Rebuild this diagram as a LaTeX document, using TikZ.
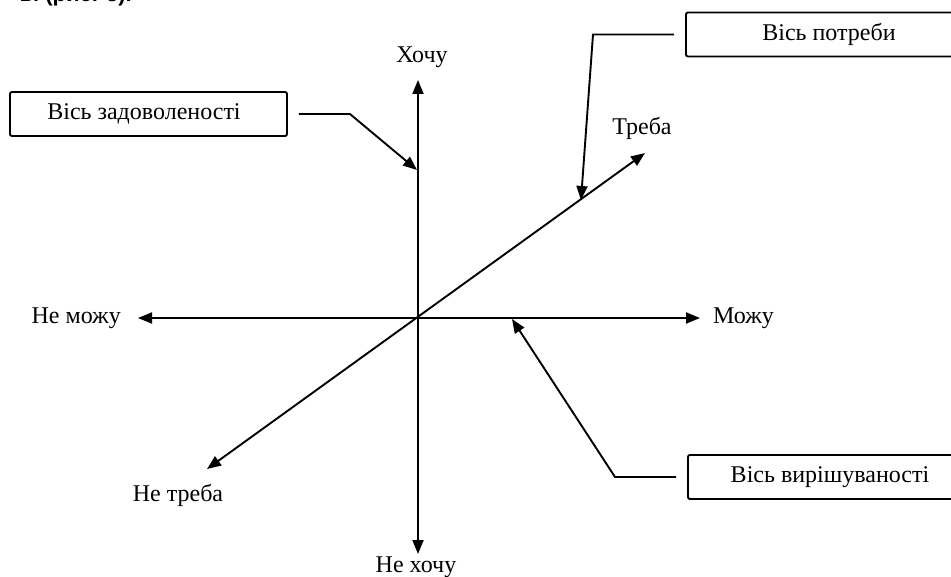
\documentclass[tikz,border=0pt]{standalone}
\usepackage{fontspec}
\setmainfont{Liberation Serif}
\newfontfamily\headfont{Liberation Sans}
\usetikzlibrary{arrows.meta}
\begin{document}
\begin{tikzpicture}[x=1pt,y=-1pt,
  tip/.tip={Triangle[length=14pt,width=11pt]},
  axisline/.style={line width=1.9pt,tip-tip},
  ptr/.style={line width=1.9pt,-tip},
  lbl/.style={font=\fontsize{24}{28}\selectfont,inner sep=0pt},
  axisbox/.style={draw,line width=1.9pt,rounded corners=2pt,minimum height=44pt,
    inner sep=0pt,font=\fontsize{24}{28}\selectfont}]
\useasboundingbox (0,0) rectangle (951,577);

% cut-off text at the top
\node[anchor=base east,inner sep=0pt,font=\headfont\bfseries\fontsize{22}{26}\selectfont] (head) at (132,1.5) {ві (рис. 3).};

% axis end points
\coordinate (O) at (418,318);
\coordinate (vtop) at (418,80);
\coordinate (vbot) at (418,554);
\coordinate (hleft) at (138,318);
\coordinate (hright) at (700,318);
\coordinate (dup) at (645,153);
\coordinate (ddown) at (207,469);

\draw[axisline] (vbot) -- (vtop);
\draw[axisline] (hleft) -- (hright);
\draw[axisline] (ddown) -- (dup);

% axis labels
\node[lbl] (hochu) at (422,57) {Хочу};
\node[lbl] (nehochu) at (416,567) {Не хочу};
\node[lbl,anchor=east] (nemozhu) at (121,318) {Не можу};
\node[lbl,anchor=west] (mozhu) at (713,318) {Можу};
\node[lbl] (treba) at (642,128) {Треба};
\node[lbl] (netreba) at (178,495) {Не треба};

% boxes
\node[axisbox,minimum width=277pt] (bz) at (148.5,114) {};
\node[lbl] (bzt) at (144,114) {Вісь задоволеності};
\node[axisbox,minimum width=286pt] (bp) at (829,34.5) {Вісь потреби};
\node[axisbox,minimum width=284pt] (bv) at (830,477) {Вісь вирішуваності};

% pointers
\coordinate (pz) at (417,170);
\coordinate (pp) at (581,200);
\coordinate (pv) at (512,319);
\draw[ptr] ([xshift=11pt]bz.east) -- ++(51,0) -- (pz);
\draw[ptr] ([xshift=-11pt]bp.west) -- (593,34.5) -- (pp);
\draw[ptr] ([xshift=-11pt]bv.west) -- (615,477) -- (pv);
\end{tikzpicture}
\end{document}
